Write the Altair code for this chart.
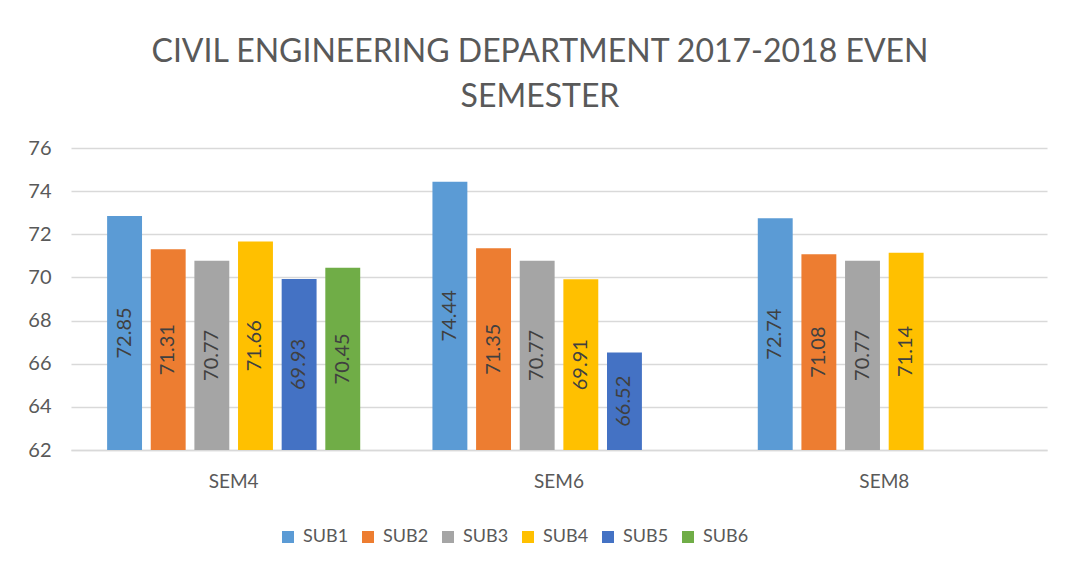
import altair as alt
import pandas as pd

semesters = ["SEM4", "SEM6", "SEM8"]
subjects = ["SUB1", "SUB2", "SUB3", "SUB4", "SUB5", "SUB6"]
sub1 = [72.85, 74.44, 72.74]
sub2 = [71.31, 71.35, 71.08]
sub3 = [70.77, 70.77, 70.77]
sub4 = [71.66, 69.91, 71.14]
sub5 = [69.93, 66.52, None]
sub6 = [70.45, None, None]
colors = ["#5B9BD5", "#ED7D31", "#A5A5A5", "#FFC000", "#4472C4", "#70AD47"]
y_ticks = [62, 64, 66, 68, 70, 72, 74, 76]

rows = []
for name, vals in zip(subjects, [sub1, sub2, sub3, sub4, sub5, sub6]):
    for sem, v in zip(semesters, vals):
        if v is not None:
            rows.append({"sem": sem, "sub": name, "value": v})
df = pd.DataFrame(rows)

FONT = "Lato"
GREY = "#595959"

x_scale = alt.Scale(domain=semesters, paddingInner=0.222, paddingOuter=0.111)
xo_scale = alt.Scale(domain=subjects, paddingInner=0.2, paddingOuter=0)
y_scale = alt.Scale(domain=[62, 76], zero=False, nice=False)

x_axis = alt.Axis(labelAngle=0, labelFontSize=19, labelColor=GREY, labelFont=FONT,
                  domainColor="#D9D9D9", domainWidth=1.5, ticks=False, labelPadding=22)
y_axis = alt.Axis(values=y_ticks, labelFontSize=20, labelColor=GREY, labelFont=FONT,
                  gridColor="#D9D9D9", gridWidth=1.5, domain=False, ticks=False, labelPadding=20)

base = alt.Chart(df)

bars = base.mark_bar().encode(
    x=alt.X("sem:N", sort=semesters, title=None, scale=x_scale, axis=x_axis),
    xOffset=alt.XOffset("sub:N", sort=subjects, scale=xo_scale),
    y=alt.Y("value:Q", title=None, scale=y_scale, axis=y_axis),
    y2=alt.datum(62),
    color=alt.Color("sub:N", sort=subjects,
                    scale=alt.Scale(domain=subjects, range=colors),
                    legend=alt.Legend(title=None, orient="none", direction="horizontal", columns=6,
                                      legendX=208, legendY=380, symbolType="square", symbolSize=144,
                                      symbolStrokeWidth=0, labelFontSize=18, labelColor=GREY,
                                      labelFont=FONT, columnPadding=10, labelOffset=6)),
)

labels = base.transform_calculate(mid="(datum.value + 62) / 2").mark_text(
    angle=270, align="center", baseline="middle", fontSize=20, color="#404040", font=FONT
).encode(
    x=alt.X("sem:N", sort=semesters, title=None, scale=x_scale, axis=x_axis),
    xOffset=alt.XOffset("sub:N", sort=subjects, scale=xo_scale),
    y=alt.Y("mid:Q", title=None, scale=y_scale, axis=y_axis),
    text=alt.Text("value:Q", format=".2f"),
)

chart = (bars + labels).properties(
    width=976,
    height=302,
    autosize=alt.AutoSizeParams(type="none"),
    padding={"left": 63, "top": 140, "right": 14, "bottom": 113},
    title=alt.Title(["CIVIL ENGINEERING DEPARTMENT 2017-2018 EVEN", "SEMESTER"],
                    fontSize=32, font=FONT, fontWeight="normal", color=GREY,
                    anchor="middle", dx=-19, offset=24, lineHeight=45),
).configure(background="white").configure_view(stroke=None)

chart.save("out.html", embed_options={"renderer": "svg", "actions": False})
